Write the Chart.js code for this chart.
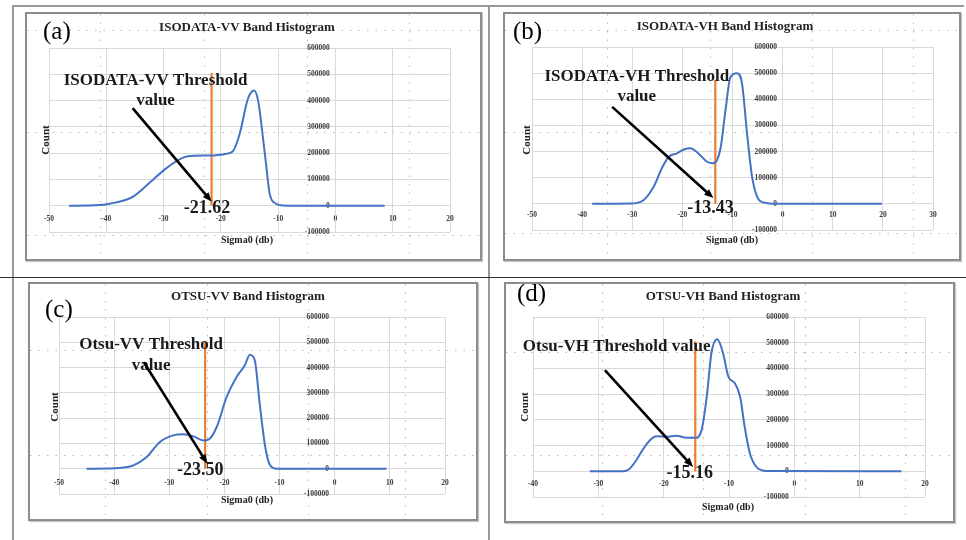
<!DOCTYPE html>
<html>
<head>
<meta charset="utf-8">
<script src="https://cdn.jsdelivr.net/npm/chart.js@4/dist/chart.umd.min.js"></script>
<style>
  body { margin: 0; background: #fff; width: 966px; height: 540px; position: relative; overflow: hidden; }
  .rule { position: absolute; background: #999; }
  .panel { position: absolute; border: 2px solid #8c8c8c; box-sizing: border-box; box-shadow: 1px 1px 1px #c8c8c8; }
  .panel canvas { display: block; }
</style>
</head>
<body>
<div class="rule" style="left:12px;top:5px;width:952px;height:2px"></div>
<div class="rule" style="left:12px;top:5px;width:2px;height:535px"></div>
<div class="rule" style="left:488px;top:5px;width:2px;height:535px"></div>
<div class="rule" style="left:0;top:277px;width:966px;height:1px;background:#333"></div>

<div class="panel" style="left:25px;top:12px;width:457px;height:249px"><canvas id="c0" width="453" height="245"></canvas></div>
<div class="panel" style="left:503px;top:12px;width:458px;height:249px"><canvas id="c1" width="454" height="245"></canvas></div>
<div class="panel" style="left:28px;top:282px;width:450px;height:239px"><canvas id="c2" width="446" height="235"></canvas></div>
<div class="panel" style="left:504px;top:282px;width:451px;height:241px"><canvas id="c3" width="447" height="237"></canvas></div>

<script>
// histogram curves
const isoVvSigma = [-46.5, -42, -39.4, -35.3, -32.4, -29.5, -26.6, -24.5, -21.6, -19.2, -17.9, -16.7, -15.3, -14.2, -13.5, -12.6, -12.0, -11.5, -10.6, -9.1, -7, 0, 8.6];
const isoVvCount = [0, 1500, 7500, 35000, 88000, 143000, 183000, 190000, 191000, 197000, 207000, 275000, 405000, 438000, 400000, 250000, 137000, 48000, 10000, 1000, 0, 0, 0];

const isoVhSigma = [-38, -30.4, -27.7, -25.7, -24.1, -22.7, -21.1, -19.7, -18.4, -16.8, -15.1, -13.8, -12.4, -11.4, -10.4, -9.1, -8.1, -7.1, -6.1, -5.1, -3.8, -1.1, 19.8];
const isoVhCount = [0, 1000, 15000, 66000, 136000, 180000, 193000, 208000, 213000, 193000, 161000, 155000, 212000, 358000, 485000, 500000, 460000, 270000, 104000, 28000, 5000, 0, 0];

const otsuVvSigma = [-45, -39, -36.5, -34.1, -31.7, -29.3, -27.5, -25.7, -23.8, -22.9, -21.4, -19.6, -17.8, -16.3, -15.4, -14.5, -13.6, -12.6, -11.7, -10.5, 0, 9.4];
const otsuVvCount = [0, 3000, 13000, 46000, 106000, 132000, 136000, 129000, 112000, 115000, 165000, 284000, 363000, 409000, 451000, 429000, 257000, 86000, 13000, 0, 0, 0];

const otsuVhSigma = [-31.3, -26.2, -25.2, -24.2, -23.1, -22.1, -21.1, -19.6, -18.0, -16.5, -15.2, -14.2, -13.4, -12.7, -11.8, -10.9, -10.1, -9.1, -8.3, -7.6, -6.8, -5.8, -4.2, 16.4];
const otsuVhCount = [0, 0, 10000, 43000, 88000, 121000, 136000, 134000, 138000, 130000, 130000, 160000, 290000, 458000, 513000, 458000, 368000, 342000, 290000, 173000, 69000, 17000, 1000, 0];

const thresholds = [-21.62, -13.43, -23.50, -15.16];
const thresholdLabels = ['-21.62', '-13.43', '-23.50', '-15.16'];
const thresholdTop = [505000, 475000, 500000, 505000];

const panelTitles = ['ISODATA-VV Band Histogram', 'ISODATA-VH Band Histogram', 'OTSU-VV Band Histogram', 'OTSU-VH Band Histogram'];
const panelTags = ['(a)', '(b)', '(c)', '(d)'];
const noteLines = [['ISODATA-VV Threshold', 'value'], ['ISODATA-VH Threshold', 'value'], ['Otsu-VV Threshold', 'value'], ['Otsu-VH Threshold value']];

const xMin = [-50, -50, -50, -40];
const xMax = [20, 30, 20, 20];
const countMin = -100000, countMax = 600000, countStep = 100000;

// where things sit in each panel (canvas px, or chart values for the notes)
const layouts = [
  { origin: [27, 14], pad: { left: 22, right: 30, top: 34, bottom: 27 }, xPad: 9,
    title: [220, 14], tag: [16, 18], count: [19, 126], sigma: [220, 226],
    note: [-31.4, 477000, 398000], arrow: [-35.4, 371000, -21.6, 15000], value: [-22.4, -11000],
    sheetH: [30, 132, 235], sheetV: [100, 204, 307, 409] },
  { origin: [505, 14], pad: { left: 27, right: 26, top: 33, bottom: 29 }, xPad: 7,
    title: [220, 13], tag: [8, 18], count: [22, 126], sigma: [227, 226],
    note: [-29.1, 486000, 410000], arrow: [-34.0, 371000, -13.8, 22000], value: [-14.4, -16000],
    sheetH: [30, 132, 233], sheetV: [607, 710, 812, 913] },
  { origin: [30, 284], pad: { left: 29, right: 31, top: 33, bottom: 25 }, xPad: 10,
    title: [218, 13], tag: [15, 26], count: [25, 123], sigma: [217, 216],
    note: [-33.3, 491000, 409000], arrow: [-34.6, 421000, -23.1, 20000], value: [-24.4, -7000],
    sheetH: [350, 455], sheetV: [105, 207, 308, 405] },
  { origin: [506, 284], pad: { left: 27, right: 28, top: 33, bottom: 24 }, xPad: 8,
    title: [217, 13], tag: [11, 10], count: [19, 123], sigma: [222, 223],
    note: [-27.2, 486000], arrow: [-29.0, 393000, -15.5, 17000], value: [-16.0, -9000],
    sheetH: [352, 455], sheetV: [602, 703, 805, 905] }
];

const serif = 'Liberation Serif';

const sheetGrid = {
  id: 'sheetGrid',
  beforeDraw(chart) {
    const L = layouts[chart.options.panel];
    const ctx = chart.ctx;
    ctx.save();
    ctx.strokeStyle = '#b8b8b8';
    ctx.lineWidth = 1;
    ctx.setLineDash([1.5, 7]);
    L.sheetH.forEach(y => {
      ctx.beginPath(); ctx.moveTo(0, y - L.origin[1] + 0.5); ctx.lineTo(chart.width, y - L.origin[1] + 0.5); ctx.stroke();
    });
    L.sheetV.forEach(x => {
      ctx.beginPath(); ctx.moveTo(x - L.origin[0] + 0.5, 0); ctx.lineTo(x - L.origin[0] + 0.5, chart.height); ctx.stroke();
    });
    ctx.restore();
  }
};

function arrow(ctx, x1, y1, x2, y2) {
  const a = Math.atan2(y2 - y1, x2 - x1), head = 10;
  ctx.strokeStyle = '#000';
  ctx.fillStyle = '#000';
  ctx.lineWidth = 2.6;
  ctx.beginPath();
  ctx.moveTo(x1, y1);
  ctx.lineTo(x2 - head * 0.8 * Math.cos(a), y2 - head * 0.8 * Math.sin(a));
  ctx.stroke();
  ctx.beginPath();
  ctx.moveTo(x2, y2);
  ctx.lineTo(x2 - head * Math.cos(a - 0.38), y2 - head * Math.sin(a - 0.38));
  ctx.lineTo(x2 - head * Math.cos(a + 0.38), y2 - head * Math.sin(a + 0.38));
  ctx.closePath();
  ctx.fill();
}

const notes = {
  id: 'notes',
  afterDraw(chart) {
    const i = chart.options.panel, L = layouts[i];
    const ctx = chart.ctx, sx = chart.scales.x, sy = chart.scales.y;
    ctx.save();
    ctx.fillStyle = '#222';
    ctx.textAlign = 'center';
    ctx.textBaseline = 'middle';
    ctx.font = 'bold 13px "' + serif + '"';
    ctx.fillText(panelTitles[i], L.title[0], L.title[1]);
    ctx.font = 'bold 10px "' + serif + '"';
    ctx.fillText('Sigma0 (db)', L.sigma[0], L.sigma[1]);
    ctx.save();
    ctx.translate(L.count[0], L.count[1]);
    ctx.rotate(-Math.PI / 2);
    ctx.font = 'bold 11px "' + serif + '"';
    ctx.fillText('Count', 0, 0);
    ctx.restore();
    ctx.fillStyle = '#000';
    ctx.textAlign = 'left';
    ctx.font = '25px "' + serif + '"';
    ctx.fillText(panelTags[i], L.tag[0], L.tag[1]);

    // threshold call-out
    ctx.fillStyle = '#1a1a1a';
    ctx.textAlign = 'center';
    ctx.font = 'bold 17px "' + serif + '"';
    const nx = sx.getPixelForValue(L.note[0]);
    noteLines[i].forEach((t, k) => ctx.fillText(t, nx, sy.getPixelForValue(L.note[1 + k])));
    arrow(ctx, sx.getPixelForValue(L.arrow[0]), sy.getPixelForValue(L.arrow[1]),
      sx.getPixelForValue(L.arrow[2]), sy.getPixelForValue(L.arrow[3]));
    ctx.fillStyle = '#1a1a1a';
    ctx.font = 'bold 18px "' + serif + '"';
    ctx.fillText(thresholdLabels[i], sx.getPixelForValue(L.value[0]), sy.getPixelForValue(L.value[1]));
    ctx.restore();
  }
};

function makeChart(i, sigma, count) {
  const L = layouts[i];
  const tickFont = { family: serif, size: 7.5, weight: 'bold' };
  new Chart(document.getElementById('c' + i), {
    type: 'line',
    data: {
      datasets: [
        {
          data: sigma.map((s, k) => ({ x: s, y: count[k] })),
          borderColor: '#4472C4',
          borderWidth: 2,
          pointRadius: 0,
          cubicInterpolationMode: 'monotone',
          fill: false
        },
        {
          data: [{ x: thresholds[i], y: 0 }, { x: thresholds[i], y: thresholdTop[i] }],
          borderColor: '#ED7D31',
          borderWidth: 2.2,
          pointRadius: 0
        }
      ]
    },
    options: {
      panel: i,
      responsive: false,
      animation: false,
      devicePixelRatio: 1,
      layout: { padding: L.pad },
      plugins: { legend: { display: false }, tooltip: { enabled: false } },
      scales: {
        x: {
          type: 'linear',
          position: { y: 0 },
          min: xMin[i],
          max: xMax[i],
          ticks: { stepSize: 10, font: tickFont, color: '#3a3a3a', padding: L.xPad, maxRotation: 0, autoSkip: false },
          grid: { color: '#d9d9d9', drawTicks: false },
          border: { color: '#d9d9d9' }
        },
        y: {
          type: 'linear',
          position: { x: 0 },
          min: countMin,
          max: countMax,
          ticks: {
            stepSize: countStep, font: tickFont, color: '#3a3a3a', autoSkip: false,
            // labels sit just left of the axis, as in the spreadsheet chart
            callback: v => String(v) + '\u00a0\u00a0\u00a0'
          },
          grid: { color: '#d9d9d9', drawTicks: false },
          border: { color: '#d9d9d9' }
        }
      }
    },
    plugins: [sheetGrid, notes]
  });
}

makeChart(0, isoVvSigma, isoVvCount);
makeChart(1, isoVhSigma, isoVhCount);
makeChart(2, otsuVvSigma, otsuVvCount);
makeChart(3, otsuVhSigma, otsuVhCount);
</script>
</body>
</html>
